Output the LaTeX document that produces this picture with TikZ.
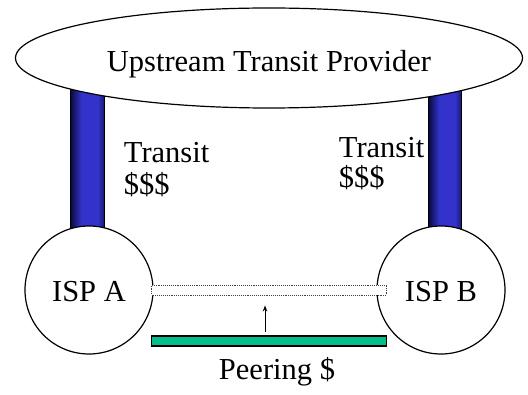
\documentclass[tikz,border=0pt]{standalone}
\usepackage{fontspec}
\setmainfont{Liberation Serif}
\usetikzlibrary{shapes.geometric, arrows.meta, positioning, calc, backgrounds}

\definecolor{pillardark}{RGB}{8,8,56}
\definecolor{pillarblue}{RGB}{51,51,204}
\definecolor{peergreen}{RGB}{0,191,140}
\pgfdeclarehorizontalshading{pillarshade}{100bp}{color(0bp)=(pillardark); color(25bp)=(pillardark); color(42bp)=(pillarblue); color(66bp)=(pillarblue); color(75bp)=(pillardark!60!pillarblue); color(100bp)=(pillardark!60!pillarblue)}

\begin{document}
\begin{tikzpicture}[x=1pt, y=-1pt, line width=1.2pt,
    big/.style={font=\fontsize{30.5}{30.5}\selectfont},
    isp/.style={circle, draw, fill=white, minimum size=128pt, inner sep=0pt, big, text height=24pt, text depth=0pt},
    pillar/.style={draw, shading=pillarshade, shading angle=0},
    peerlink/.style={draw=black!75, densely dotted, line width=0.9pt, fill=white, minimum width=235pt, minimum height=10pt, inner sep=0pt},
    peerbar/.style={draw, line width=1.6pt, fill=peergreen, minimum width=235pt, minimum height=10pt, inner sep=0pt},
    price/.style={big, anchor=base west}]

    \useasboundingbox (0,0) rectangle (528,395);

    % Provider and the two ISPs
    \node[ellipse, draw, fill=white, minimum width=507pt, minimum height=100pt, inner sep=0pt, big, text height=28pt, text depth=0pt] (provider) at (269,58) {Upstream Transit Provider};
    \node[isp] (ispA) at (89,290) {ISP A};
    \node[isp] (ispB) at (441,290) {ISP B};

    % Transit links, behind the shapes
    \begin{scope}[on background layer]
        \shade[pillar] ($(ispA.center)+(-19,0)$) rectangle ($(ispA.center |- provider.center)+(15,0)$);
        \shade[pillar] ($(ispB.center)+(-13,0)$) rectangle ($(ispB.center |- provider.center)+(20,0)$);
    \end{scope}

    % Transit prices
    \node[price] (transitA) at (120,163) {Transit};
    \node[price] (costA) at (120,195) {\$\$\$};
    \node[price] (transitB) at (335,158) {Transit};
    \node[price] (costB) at (335,188) {\$\$\$};

    % Peering link and its price
    \node[peerlink] (peering) at ($(ispA)!0.5!(ispB)+(4,0)$) {};
    \node[peerbar, below=40pt of peering] (peerbar) {};
    \draw[-{Stealth[length=6pt,width=4.5pt]}, line width=1pt, shorten <=3pt, shorten >=10pt] ([xshift=-4pt]peerbar.north) -- ([xshift=-4pt]peering.south);
    \node[big, anchor=base] (peerprice) at (277,380) {Peering \$};

\end{tikzpicture}
\end{document}
